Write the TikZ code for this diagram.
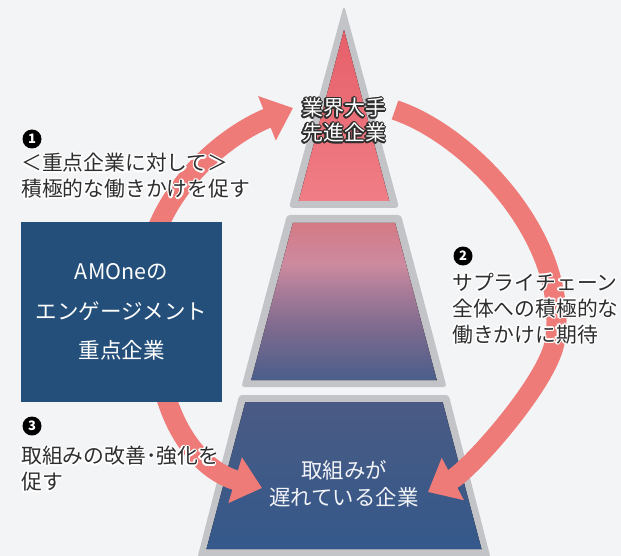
\documentclass[tikz,border=0pt]{standalone}
\usepackage{fontspec}
\setmainfont{Noto Sans CJK JP}
\usetikzlibrary{arrows.meta,calc}

\definecolor{bgcol}{HTML}{F3F4F6}
\definecolor{rimgray}{HTML}{C3C4C8}
\definecolor{arrowred}{HTML}{EE7B78}
\definecolor{boxblue}{HTML}{234F7A}
\definecolor{textgray}{HTML}{2E2E2E}
\definecolor{labelwhite}{HTML}{F2F3F7}
\definecolor{topT}{HTML}{E65F69}
\definecolor{topB}{HTML}{F07E86}
\definecolor{midA}{HTML}{D57A85}
\definecolor{midB}{HTML}{CC8A9F}
\definecolor{midC}{HTML}{A07896}
\definecolor{midD}{HTML}{7C6A8E}
\definecolor{midE}{HTML}{4A5E8A}
\definecolor{botT}{HTML}{4A5A84}
\definecolor{botB}{HTML}{34598A}

\pgfdeclareverticalshading{topshade}{100bp}{color(0bp)=(topB); color(25bp)=(topB); color(75bp)=(topT); color(100bp)=(topT)}
\pgfdeclareverticalshading{midshade}{100bp}{color(0bp)=(midE); color(25bp)=(midE); color(41bp)=(midD); color(51bp)=(midC); color(62bp)=(midB); color(75bp)=(midA); color(100bp)=(midA)}
\pgfdeclareverticalshading{botshade}{100bp}{color(0bp)=(botB); color(25bp)=(botB); color(75bp)=(botT); color(100bp)=(botT)}

\tikzset{
  cycle arrow/.style={draw=arrowred, line width=20pt, -{Triangle[length=28pt,width=46pt]}},
  note/.style={font=\fontsize{20.8}{26}\selectfont, text=textgray, align=left, inner sep=0pt, anchor=west},
  apexlbl/.style={font=\fontsize{21}{25}\selectfont, text=white, align=center, inner sep=0pt},
  numdot/.style={circle, fill=black, text=white, inner sep=0pt, minimum size=19pt, font=\fontsize{13}{13}\selectfont\bfseries}
}

% text with a thin outline of another colour
\newcommand\halonode[5]{%
  \foreach \ang in {0,30,...,330}
    \node[#2, text=#4, shift={(\ang:1.4pt)}] (#1-\ang) at #3 {#5};
  \node[#2] (#1) at #3 {#5};
}

\begin{document}
\begin{tikzpicture}[x=1pt,y=-1pt]
  \fill[bgcol] (0,0) rectangle (621,556);
  \useasboundingbox (0,0) rectangle (621,556);

  \fill[rimgray, rounded corners=4pt] (344,5) -- (399.2,208) -- (288.8,208) -- cycle;
  \fill[shading=topshade] (344,30) -- (389.3,201) -- (298.7,201) -- cycle;
  \fill[rimgray, rounded corners=3pt] (287,215) -- (401,215) -- (446.6,387) -- (241.4,387) -- cycle;
  \fill[shading=midshade] (292.9,223) -- (395.1,223) -- (436.75,380) -- (251.25,380) -- cycle;
  \fill[rimgray, rounded corners=3pt] (239.3,395) -- (448.7,395) -- (495,575) -- (193,575) -- cycle;
  \fill[shading=botshade] (245.4,402) -- (442.6,402) -- (481.5,549) -- (206.5,549) -- cycle;

  \coordinate (s1) at (145,300);
  \coordinate (s3) at (155,330);
  \coordinate (s2) at (395,110);
  \coordinate (m2) at (555,340);
  \draw[cycle arrow] (s1) .. controls (140,200) and (225,135) .. (293,108);
  \draw[cycle arrow] (s3) .. controls (160,430) and (204,471) .. (262,488);
  \draw[cycle arrow] (s2) .. controls (470,135) and (570,240) .. (m2)
                          .. controls (550,380) and (470,470) .. (428,492);

  \node[fill=boxblue, minimum width=201pt, minimum height=180pt, inner sep=0pt,
        text=white, align=center, font=\fontsize{21.5}{39.5}\selectfont]
        (focus) at (121.5,312) {AMOneの\\エンゲージメント\\重点企業};

  \halonode{leader}{apexlbl}{(344,120.5)}{textgray}{業界大手\\先進企業}
  \node[font=\fontsize{21.4}{27}\selectfont, text=labelwhite, align=center]
        (laggard) at (344,483.5) {取組みが\\遅れている企業};

  \node[numdot] (n1) at (32,139) {1};
  \node[numdot] (n2) at (463,256) {2};
  \node[numdot] (n3) at (32,426) {3};
  \halonode{note1}{note}{(21,176)}{white}{＜重点企業に対して＞\\積極的な働きかけを促す}
  \halonode{note2}{note}{(452,308.5)}{white}{サプライチェーン\\全体への積極的な\\働きかけに期待}
  \halonode{note3}{note}{(21,469)}{white}{取組みの改善･強化を\\促す}
\end{tikzpicture}
\end{document}
